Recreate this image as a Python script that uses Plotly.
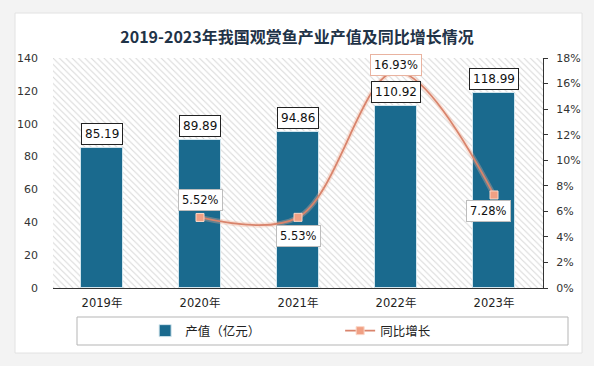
import plotly.graph_objects as go

# ---- data ----
years = ["2019年", "2020年", "2021年", "2022年", "2023年"]
output_value = [85.19, 89.89, 94.86, 110.92, 118.99]          # 产值（亿元）
growth_years = ["2020年", "2021年", "2022年", "2023年"]
growth_rate = [5.52, 5.53, 16.93, 7.28]                        # 同比增长 (%)

Y_MAX = 140
Y2_MAX = 18

BAR_COLOR = "#1a6a8e"
LINE_COLOR = "#d9846c"
FONT = "DejaVu Sans, Noto Sans CJK SC, sans-serif"

fig = go.Figure()

# hatched plot background (one full-width band per category)
fig.add_trace(go.Bar(
    x=years, y=[Y_MAX] * len(years), width=1,
    marker=dict(color="white", line=dict(width=0),
                pattern=dict(shape="\\", fgcolor="#b0b0b0", bgcolor="white",
                             size=4.5, solidity=0.22)),
    hoverinfo="skip", showlegend=False,
))

fig.add_trace(go.Bar(
    x=years, y=output_value, name="产值（亿元）", width=0.42,
    marker=dict(color=BAR_COLOR, line=dict(color="#d3e6ee", width=1)),
))

# soft glow under the line
fig.add_trace(go.Scatter(
    x=growth_years, y=growth_rate, yaxis="y2", mode="lines",
    line=dict(color="rgba(240,175,150,0.35)", width=5, shape="spline"),
    hoverinfo="skip", showlegend=False,
))
fig.add_trace(go.Scatter(
    x=growth_years, y=growth_rate, yaxis="y2", name="同比增长",
    mode="lines+markers",
    line=dict(color=LINE_COLOR, width=1.8, shape="spline"),
    marker=dict(symbol="square", size=8, color="#f0a084",
                line=dict(color="#fbd6c6", width=1)),
))

annotations = []
for x, v in zip(years, output_value):
    annotations.append(dict(
        x=x, y=v, xref="x", yref="y", text=f"{v:.2f}", showarrow=False,
        yanchor="bottom", yshift=3,
        font=dict(family=FONT, size=12, color="#111"),
        bgcolor="white", bordercolor="#222", borderwidth=1, borderpad=3,
    ))

pct_shift = {"2020年": (0, 17), "2021年": (0, -19), "2022年": (0, 7), "2023年": (-6, -16)}
for x, v in zip(growth_years, growth_rate):
    dx, dy = pct_shift[x]
    annotations.append(dict(
        x=x, y=v, xref="x", yref="y2", text=f"{v:.2f}%", showarrow=False,
        xshift=dx, yshift=dy,
        font=dict(family=FONT, size=11.5, color="#111"),
        bgcolor="white",
        bordercolor="#e9b3a0" if x == "2022年" else "#bdbdbd",
        borderwidth=1, borderpad=3,
    ))

L, R, T, B = 53, 51, 58, 78
W, H = 594, 366
pw, ph = W - L - R, H - T - B


def px_x(p):
    return (p - L) / pw


def px_y(p):
    return (H - B - p) / ph


shapes = [
    # white card
    dict(type="rect", xref="paper", yref="paper", layer="below",
         x0=px_x(15), x1=px_x(582), y0=px_y(353), y1=px_y(13),
         fillcolor="white", line=dict(color="#e2e2e2", width=1)),
    # legend frame
    dict(type="rect", xref="paper", yref="paper", layer="below",
         x0=px_x(77), x1=px_x(568), y0=px_y(345), y1=px_y(317),
         fillcolor="rgba(0,0,0,0)", line=dict(color="#b5b5b5", width=1)),
]

fig.update_layout(
    width=W, height=H,
    margin=dict(l=L, r=R, t=T, b=B),
    paper_bgcolor="#f3f3f3", plot_bgcolor="rgba(0,0,0,0)",
    barmode="overlay", bargap=0,
    title=dict(text="2019-2023年我国观赏鱼产业产值及同比增长情况",
               x=0.5, xanchor="center", y=1 - 37 / H, yanchor="middle",
               font=dict(family="Noto Sans CJK SC", size=16, color="#1f3347",
                         weight="bold")),
    font=dict(family=FONT, size=11, color="#333"),
    xaxis=dict(showline=True, linecolor="#333", linewidth=1, ticks="",
               tickfont=dict(size=11.5, color="#222"), ticklabelstandoff=4,
               showgrid=False, fixedrange=True),
    yaxis=dict(range=[0, Y_MAX], dtick=20, showgrid=False, zeroline=False,
               showline=False, ticks="", ticklabelstandoff=14,
               tickfont=dict(size=11, color="#333")),
    yaxis2=dict(range=[0, Y2_MAX], dtick=2, overlaying="y", side="right",
                ticksuffix="%", showgrid=False, zeroline=False,
                showline=True, linecolor="#333", linewidth=1,
                ticks="outside", ticklen=4, tickcolor="#333",
                ticklabelstandoff=6, tickfont=dict(size=11, color="#333")),
    legend=dict(orientation="h", x=0.586, xanchor="center",
                y=px_y(331), yanchor="middle",
                font=dict(size=12.5, color="#222"),
                bgcolor="rgba(0,0,0,0)", borderwidth=0,
                entrywidth=150, entrywidthmode="pixels"),
    annotations=annotations,
    shapes=shapes,
)

fig.write_html("out.html", config={"displayModeBar": False},
               post_script="document.body.style.margin='0';")
